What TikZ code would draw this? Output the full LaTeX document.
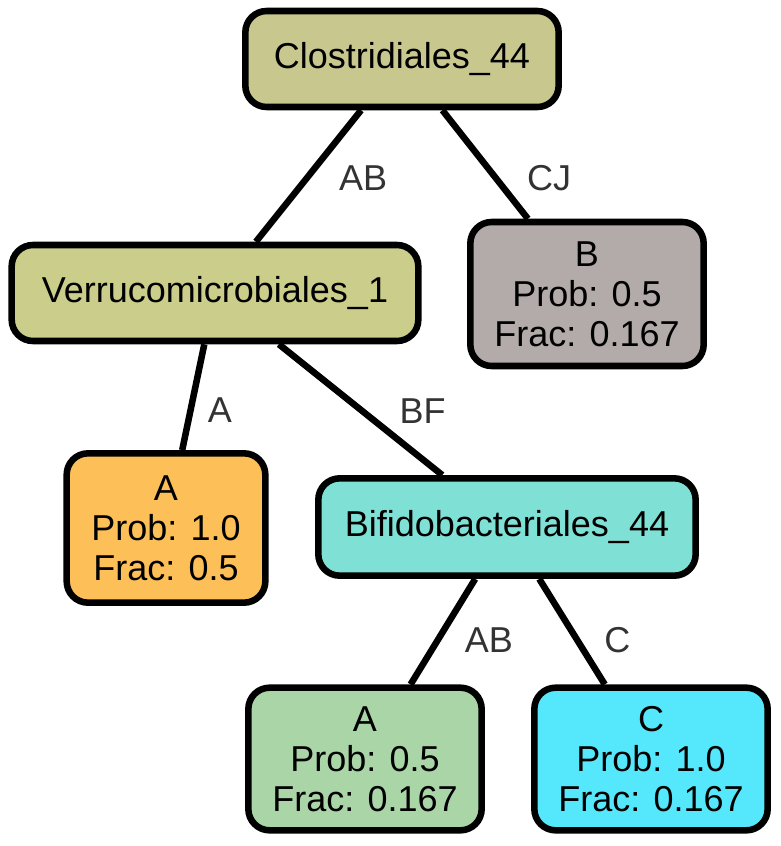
\documentclass[tikz,border=0pt]{standalone}
\usepackage{fontspec}
\setmainfont{Liberation Sans}
\usetikzlibrary{positioning}

\begin{document}
\begin{tikzpicture}[x=0.75pt, y=-0.75pt,
  taxon/.style={draw, line width=4.9pt, rounded corners=16pt,
    font=\fontsize{27}{30}\selectfont, align=center, inner sep=2pt},
  leaf/.style={taxon},
  edge/.style={line width=4.9pt},
  lbl/.style={font=\fontsize{27}{30}\selectfont, text=black!80, inner sep=1pt}]

\useasboundingbox (0,0) rectangle (781,846);

% --- internal nodes ---
\node[taxon, fill={rgb,255:red,200;green,200;blue,142}, minimum width=235pt, minimum height=72pt] (clos) at (402,59) {Clostridiales\_44};
\node[taxon, fill={rgb,255:red,203;green,205;blue,138}, minimum width=305pt, minimum height=72pt] (verr) at (215,293) {Verrucomicrobiales\_1};
\node[taxon, fill={rgb,255:red,127;green,224;blue,213}, minimum width=283pt, minimum height=73pt] (bifi) at (507,527) {Bifidobacteriales\_44};

% --- leaves ---
\node[leaf, fill={rgb,255:red,179;green,171;blue,170}, minimum width=175pt, minimum height=108pt] (leafb) at (587,294) {B\\Prob: 0.5\\Frac: 0.167};
\node[leaf, fill={rgb,255:red,253;green,191;blue,87}, minimum width=149pt, minimum height=112pt] (leafa) at (166,528) {A\\Prob: 1.0\\Frac: 0.5};
\node[leaf, fill={rgb,255:red,169;green,213;blue,167}, minimum width=175pt, minimum height=107pt] (leafab) at (365,759) {A\\Prob: 0.5\\Frac: 0.167};
\node[leaf, fill={rgb,255:red,85;green,232;blue,252}, minimum width=175pt, minimum height=107pt] (leafc) at (651,759) {C\\Prob: 1.0\\Frac: 0.167};

% --- edges ---
\draw[edge] (clos) -- node[lbl, xshift=41pt, yshift=-1.5pt] {AB} (verr);
\draw[edge] (clos) -- node[lbl, xshift=48pt, yshift=-10.5pt] {CJ} (leafb);
\draw[edge] (verr) -- node[lbl, xshift=20pt, yshift=-10pt] {A} (leafa);
\draw[edge] (verr) -- node[lbl, xshift=46.5pt, yshift=-1pt] {BF} (bifi);
\draw[edge] (bifi) -- node[lbl, xshift=34.5pt, yshift=-6pt] {AB} (leafab);
\draw[edge] (bifi) -- node[lbl, xshift=34pt, yshift=-6pt] {C} (leafc);
\end{tikzpicture}
\end{document}
